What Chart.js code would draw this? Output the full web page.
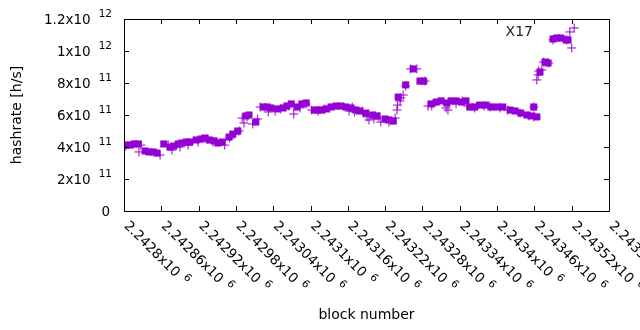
<!DOCTYPE html>
<html>
<head>
<meta charset="utf-8">
<script src="https://cdn.jsdelivr.net/npm/chart.js@4/dist/chart.umd.min.js"></script>
<style>
  body { margin: 0; background: #fff; }
</style>
</head>
<body>
<canvas id="hashChart" width="640" height="330"></canvas>
<script>
// block numbers and hashrate (h/s)
var avgBlocks = [2242803, 2242810, 2242816, 2242823, 2242834, 2242840, 2242847, 2242853, 2242864, 2242874,
    2242880, 2242887, 2242893, 2242900, 2242906, 2242916, 2242924, 2242930, 2242937, 2242945,
    2242951, 2242958, 2242969, 2242975, 2242983, 2242996, 2243001, 2243012, 2243024, 2243030,
    2243036, 2243046, 2243056, 2243062, 2243069, 2243078, 2243086, 2243093, 2243106, 2243112,
    2243118, 2243125, 2243133, 2243141, 2243149, 2243157, 2243165, 2243173, 2243179, 2243189,
    2243200, 2243207, 2243220, 2243226, 2243233, 2243241, 2243253, 2243265, 2243276, 2243282,
    2243294, 2243302, 2243310, 2243319, 2243326, 2243334, 2243343, 2243350, 2243356, 2243364,
    2243372, 2243382, 2243390, 2243400, 2243409, 2243421, 2243429, 2243438, 2243448, 2243456,
    2243459, 2243464, 2243469, 2243477, 2243482, 2243490, 2243496, 2243503, 2243511, 2243514];
var avgRates = [4.12e11, 4.12e11, 4.19e11, 4.19e11, 3.75e11, 3.69e11, 3.69e11, 3.62e11, 4.19e11, 4.0e11,
    4.06e11, 4.19e11, 4.25e11, 4.31e11, 4.31e11, 4.44e11, 4.5e11, 4.56e11, 4.44e11, 4.38e11,
    4.25e11, 4.31e11, 4.62e11, 4.81e11, 5.0e11, 5.94e11, 6.0e11, 5.56e11, 6.5e11, 6.5e11,
    6.44e11, 6.38e11, 6.44e11, 6.56e11, 6.69e11, 6.5e11, 6.69e11, 6.75e11, 6.31e11, 6.31e11,
    6.31e11, 6.38e11, 6.5e11, 6.56e11, 6.56e11, 6.5e11, 6.44e11, 6.31e11, 6.25e11, 6.12e11,
    6.0e11, 5.94e11, 5.75e11, 5.69e11, 5.62e11, 7.12e11, 7.88e11, 8.88e11, 8.12e11, 8.12e11,
    6.69e11, 6.81e11, 6.88e11, 6.75e11, 6.88e11, 6.88e11, 6.81e11, 6.88e11, 6.5e11, 6.5e11,
    6.62e11, 6.62e11, 6.5e11, 6.5e11, 6.5e11, 6.31e11, 6.25e11, 6.12e11, 6.0e11, 5.94e11,
    6.5e11, 5.88e11, 8.69e11, 9.31e11, 9.25e11, 10.75e11, 10.81e11, 10.81e11, 10.69e11, 10.69e11];

var blockBlocks = [2242803, 2242827, 2242824, 2242858, 2242871, 2242877, 2242890, 2242903, 2242919, 2242935,
    2242943, 2242962, 2242970, 2242978, 2242985, 2242993, 2242990, 2242998, 2243007, 2243015,
    2243019, 2243032, 2243043, 2243052, 2243065, 2243073, 2243083, 2243093, 2243102, 2243112,
    2243123, 2243131, 2243162, 2243167, 2243171, 2243184, 2243191, 2243194, 2243202, 2243210,
    2243213, 2243226, 2243236, 2243239, 2243240, 2243244, 2243245, 2243249, 2243253, 2243261,
    2243271, 2243284, 2243289, 2243295, 2243318, 2243321, 2243324, 2243334, 2243344, 2243353,
    2243364, 2243379, 2243389, 2243405, 2243417, 2243437, 2243450, 2243459, 2243459, 2243464,
    2243466, 2243467, 2243472, 2243475, 2243483, 2243490, 2243512, 2243517, 2243520, 2243524];
var blockRates = [4.06e11, 4.12e11, 3.69e11, 3.5e11, 4.12e11, 3.81e11, 4.0e11, 4.12e11, 4.31e11, 4.5e11,
    4.31e11, 4.12e11, 4.56e11, 4.81e11, 5.0e11, 5.5e11, 5.81e11, 5.88e11, 5.44e11, 5.75e11,
    6.5e11, 6.19e11, 6.25e11, 6.38e11, 6.56e11, 6.06e11, 6.44e11, 6.69e11, 6.31e11, 6.25e11,
    6.38e11, 6.44e11, 6.25e11, 6.5e11, 6.19e11, 6.25e11, 5.88e11, 5.69e11, 5.75e11, 5.88e11,
    5.56e11, 5.56e11, 5.81e11, 6.31e11, 6.62e11, 6.88e11, 7.06e11, 7.25e11, 7.81e11, 8.88e11,
    8.88e11, 8.12e11, 6.56e11, 6.56e11, 6.44e11, 6.31e11, 6.81e11, 6.69e11, 6.88e11, 6.56e11,
    6.44e11, 6.56e11, 6.5e11, 6.44e11, 6.31e11, 6.12e11, 5.94e11, 5.88e11, 6.5e11, 8.19e11,
    8.5e11, 8.75e11, 8.81e11, 9.31e11, 9.25e11, 10.69e11, 10.69e11, 11.19e11, 10.19e11, 11.44e11];

var xTickLabels = ["2.2428", "2.24286", "2.24292", "2.24298", "2.24304", "2.2431", "2.24316",
    "2.24322", "2.24328", "2.24334", "2.2434", "2.24346", "2.24352", "2.24358"];
var xTickExp = "6";
var yTickLabels = ["0", "2x10", "4x10", "6x10", "8x10", "1x10", "1.2x10"];
var yTickExps = ["", "11", "11", "11", "11", "12", "12"];
var seriesName = "X17";

var violet = "#9400d3";
var fontFamily = "'DejaVu Sans', sans-serif";

function toPoints(xs, ys)
{
    var pts = [];
    for (var i = 0; i < xs.length; i++)
    {
        pts.push({x: xs[i], y: ys[i]});
    }
    return pts;
}

// gnuplot style frame, mirrored inward ticks, tick labels with exponents
var gnuplotFrame = {
    id: "gnuplotFrame",
    afterDraw: function (chart) {
        var ctx = chart.ctx;
        var area = chart.chartArea;
        var xs = chart.scales.x;
        var ys = chart.scales.y;
        ctx.save();
        ctx.strokeStyle = "#000";
        ctx.lineWidth = 1;
        ctx.beginPath();
        ctx.rect(Math.round(area.left) + 0.5, Math.round(area.top) + 0.5,
            Math.round(area.right - area.left), Math.round(area.bottom - area.top));
        ctx.stroke();

        var tickLen = 5;
        ctx.beginPath();
        xs.ticks.forEach(function (t) {
            var px = Math.round(xs.getPixelForValue(t.value)) + 0.5;
            ctx.moveTo(px, area.bottom);
            ctx.lineTo(px, area.bottom - tickLen);
            ctx.moveTo(px, area.top);
            ctx.lineTo(px, area.top + tickLen);
        });
        ys.ticks.forEach(function (t) {
            var py = Math.round(ys.getPixelForValue(t.value)) + 0.5;
            ctx.moveTo(area.left, py);
            ctx.lineTo(area.left + tickLen, py);
            ctx.moveTo(area.right, py);
            ctx.lineTo(area.right - tickLen, py);
        });
        ctx.stroke();

        ctx.fillStyle = "#000";
        var mainFont = "13.5px " + fontFamily;
        var supFont = "10.5px " + fontFamily;

        // y labels, right aligned
        ys.ticks.forEach(function (t, i) {
            var py = ys.getPixelForValue(t.value);
            var right = area.left - 12;
            ctx.textBaseline = "middle";
            ctx.textAlign = "right";
            if (yTickExps[i])
            {
                ctx.font = supFont;
                var supW = ctx.measureText(yTickExps[i]).width;
                ctx.fillText(yTickExps[i], right, py - 5);
                ctx.font = mainFont;
                ctx.fillText(yTickLabels[i], right - supW - 8, py + 1);
            }
            else
            {
                ctx.font = mainFont;
                ctx.fillText(yTickLabels[i], right - 2, py + 1);
            }
        });

        // x labels, rotated -45 degrees, starting at the tick
        xs.ticks.forEach(function (t, i) {
            var px = xs.getPixelForValue(t.value);
            ctx.save();
            ctx.translate(px + 2, area.bottom + 13);
            ctx.rotate(Math.PI / 4);
            ctx.textAlign = "left";
            ctx.textBaseline = "middle";
            ctx.font = mainFont;
            var txt = xTickLabels[i] + "x10";
            ctx.fillText(txt, 0, 0);
            var w = ctx.measureText(txt).width;
            ctx.font = supFont;
            ctx.fillText(xTickExp, w + 6, -5);
            ctx.restore();
        });

        // key
        ctx.font = "14px " + fontFamily;
        ctx.textAlign = "right";
        ctx.textBaseline = "middle";
        ctx.fillStyle = "#222";
        ctx.fillText(seriesName, 533, 32);
        ctx.restore();
    }
};

var hashChart = new Chart(document.getElementById("hashChart"), {
    type: "scatter",
    data: {
        datasets: [
            {
                label: seriesName,
                data: toPoints(blockBlocks, blockRates),
                pointStyle: "cross",
                pointRadius: 4.5,
                pointHoverRadius: 4.5,
                borderColor: violet,
                backgroundColor: violet,
                borderWidth: 1
            },
            {
                label: seriesName + " avg",
                data: toPoints(avgBlocks, avgRates),
                pointStyle: "rect",
                pointRadius: 5,
                pointHoverRadius: 5,
                borderColor: violet,
                backgroundColor: violet,
                borderWidth: 0
            }
        ]
    },
    options: {
        responsive: false,
        animation: false,
        devicePixelRatio: 1,
        layout: {
            padding: {left: 0, top: 19, right: 31, bottom: 0}
        },
        plugins: {
            legend: {display: false},
            tooltip: {enabled: false}
        },
        scales: {
            x: {
                type: "linear",
                min: 2242800,
                max: 2243580,
                ticks: {stepSize: 60, display: false},
                grid: {display: false},
                border: {display: false},
                title: {
                    display: true,
                    text: "block number",
                    color: "#000",
                    font: {family: fontFamily, size: 14},
                    padding: {top: 0, bottom: 6.6}
                },
                afterFit: function (scale) { scale.height = 119; }
            },
            y: {
                min: 0,
                max: 1.2e12,
                ticks: {stepSize: 2e11, display: false},
                grid: {display: false},
                border: {display: false},
                title: {
                    display: true,
                    text: "hashrate [h/s]",
                    color: "#000",
                    font: {family: fontFamily, size: 14},
                    padding: {top: 8.6, bottom: 0}
                },
                afterFit: function (scale) { scale.width = 124; }
            }
        }
    },
    plugins: [gnuplotFrame]
});
</script>
</body>
</html>
